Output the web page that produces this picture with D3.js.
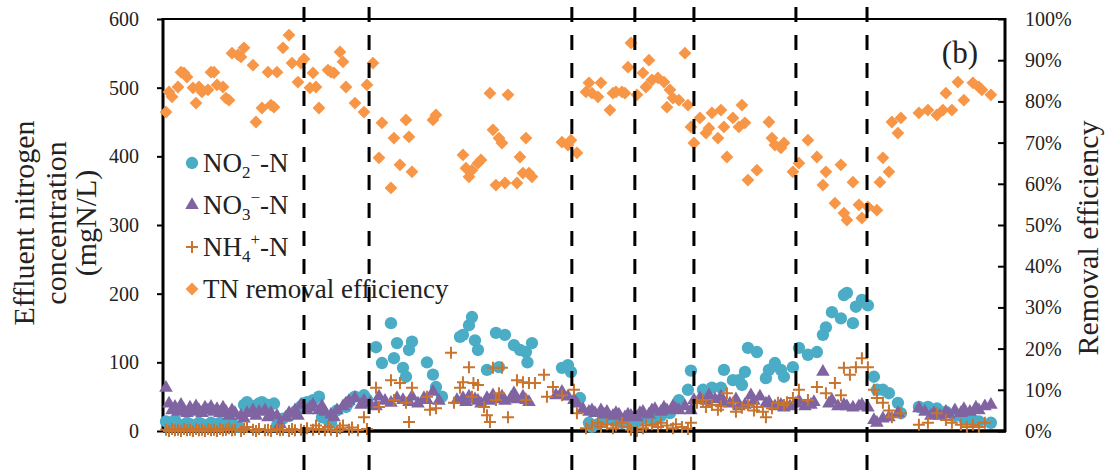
<!DOCTYPE html>
<html>
<head>
<meta charset="utf-8">
<script src="https://cdn.jsdelivr.net/npm/d3@7"></script>
<style>
  body { margin: 0; background: #fff; }
  text { font-family: "Liberation Serif", "Times New Roman", serif; fill: #222; }
</style>
</head>
<body>
<div id="chart"></div>
<script>
// [day, mgN/L]
var no2 = [[1,14],[2,12],[4,16],[5,10],[7,8],[8,12],[9,10],[11,8],[12,12],[13,10],[15,8],[16,12],[18,10],[19,12],[20,8],[22,10],[23,12],[25,6],[27,38],[28,42],[30,36],[32,40],[33,42],[35,38],[37,40],[38,8],[40,18],[42,22],[44,28],[46,36],[47,40],[48,42],[50,45],[52,50],[53,20],[55,16],[56,12],[58,30],[61,35],[62,42],[64,50],[67,52],[68,46],
  [71,122],[73,99],[76,157],[77,106],[78,128],[80,92],[81,79],[82,118],[83,130],[88,100],[90,82],[91,64],[93,50],
  [99,137],[100,140],[102,154],[103,166],[104,132],[105,118],[108,89],[111,143],[112,93],[114,140],[117,125],[119,118],[121,115],[121.5,100],[123,128],[133,92],[135,96],[136,86],[139,48],
  [142,12],[143,6],[145,10],[147,14],[148,20],[150,16],[151,20],[153,12],[155,16],[156,10],[158,14],[160,18],[162,20],[164,16],[166,22],[169,26],[172,45],[175,60],[176,88],
  [180,60],[183,63],[186,63],[187,89],[190,74],[192,74],[193,67],[194,86],[195,121],[198,115],[201,77],[202,89],[204,99],[206,89],[207,79],[210,93],
  [212,121],[215,111],[218,115],[220,140],[221,151],[223,173],[226,164],[227,198],[228,201],[230,157],[231,181],[233,191],[235,183],
  [237,79],[238,60],[240,60],[242,55],[245,41],[246,26],[252,35],[255,35],[258,33],[261,28],[264,22],[267,18],[270,16],[272,14],[276,12]];

var no3 = [[1,63],[2,40],[3,30],[4,35],[5,28],[6,38],[7,30],[8,26],[9,34],[10,28],[11,36],[12,30],[13,26],[14,34],[15,30],[16,35],[17,28],[18,32],[19,26],[20,34],[21,28],[22,22],[23,30],[24,26],[26,22],[27,18],[28,26],[30,30],[31,22],[32,28],[34,30],[35,20],[36,26],[38,22],[39,10],[41,20],[42,26],[44,30],[45,22],
  [46,38],[48,30],[49,34],[50,38],[52,30],[53,36],[54,28],[56,24],[57,20],[58,30],[60,36],[61,40],[62,44],[64,48],[66,38],[67,44],
  [69,40],[71,36],[72,50],[74,44],[76,41],[78,48],[80,45],[82,42],[83,50],[85,40],[87,48],[88,45],[90,57],[92,44],
  [98,45],[100,48],[101,42],[102,50],[104,46],[105,44],[106,40],[108,48],[109,44],[110,52],[112,46],[113,50],[114,44],[116,48],[117,55],[118,46],[120,50],[121,45],[122,42],
  [131,52],[133,57],[135,50],[137,45],[138,40],[140,32],[142,28],[143,30],[144,26],[146,30],[147,24],[148,28],[150,22],[151,26],[152,24],[154,20],[155,24],[156,22],[158,20],[159,26],[160,28],[162,24],[163,30],[164,32],[166,28],[167,34],[168,30],[170,36],[171,32],[172,30],[174,36],[176,30],
  [177,45],[179,48],[181,44],[182,52],[184,46],[186,50],[187,42],[189,40],[191,46],[192,36],[194,38],[196,52],[197,44],[199,50],[201,40],[202,42],[204,36],[206,38],[207,34],[209,36],
  [211,40],[212,44],[214,36],[216,38],[217,42],[220,86],[222,40],[223,45],[225,36],[227,38],[228,36],[230,34],[232,36],[233,38],[235,34],
  [237,16],[238,12],[240,18],[242,20],[245,26],[252,33],[254,28],[256,22],[257,26],[259,22],[261,28],[262,24],[264,30],[266,26],[267,32],[269,28],[271,34],[272,30],[274,36],[276,38]];

var nh4 = [[1,2],[2,0],[3,3],[4,1],[5,2],[6,0],[7,3],[8,1],[9,2],[10,0],[11,3],[12,1],[13,2],[14,0],[15,3],[16,1],[17,2],[18,0],[19,3],[20,1],[21,2],[22,4],[23,1],[24,2],[26,0],[27,3],[28,6],[30,2],[31,0],[32,3],[34,1],[35,2],[36,0],[38,3],[39,1],[40,2],[42,0],[43,3],[44,1],
  [46,2],[47,0],[48,4],[50,2],[51,8],[52,3],[54,1],[55,6],[56,2],[58,0],[59,4],[60,8],[62,2],[63,5],[65,1],[67,20],[68,3],
  [71,63],[72,35],[76,74],[77,45],[79,70],[81,41],[82,13],[83,63],[88,50],[89,31],[91,33],
  [96,114],[97,41],[99,63],[100,71],[102,93],[103,50],[103.5,70],[105,67],[107,35],[108,23],[109,13],[110,92],[111,45],[112,55],[113,92],[115,20],[118,74],[120,71],[121,45],[122,70],[124,70],[127,82],[128,50],[130,64],[133,52],
  [137,60],[138,26],[141,4],[143,8],[145,12],[146,6],[148,10],[150,4],[151,8],[153,12],[155,6],[156,2],[158,0],[160,4],[161,8],[163,10],[165,6],[166,12],[168,8],[170,4],[171,10],[173,6],[175,3],[176,12],
  [178,41],[180,45],[181,35],[183,38],[185,31],[186,36],[188,55],[190,41],[191,28],[193,34],[195,38],[197,30],[198,35],[200,28],[201,20],[203,33],[205,41],[207,38],[208,42],[210,48],
  [212,60],[215,45],[218,64],[221,55],[224,70],[226,52],[227,92],[229,82],[231,93],[233,106],[235,93],
  [237,60],[238,48],[240,41],[242,30],[243,20],[246,26],[252,9],[255,12],[258,26],[261,16],[263,12],[266,9],[268,6],[270,9],[272,6],[274,12]];

// [day, %]
var tnRemoval = [[1,77.4],[2,82.3],[3,81.1],[5,83.5],[6,87.1],[7,86.9],[8,85.9],[10,83.3],[11,79.6],[12,83.5],[13,82.3],[15,82.8],[16,87.1],[17,87.1],[18,84.0],[20,83.5],[21,80.8],[22,80.3],[23,91.7],[25,91.3],[26,90.8],[27,93.0],[30,88.8],[31,75.0],[33,78.4],[35,87.1],[36,79.1],[37,78.6],[38,87.1],[40,93.0],[42,96.1],[43,89.3],[45,84.7],[46,89.3],
  [47,90.3],[49,83.3],[50,86.9],[51,83.5],[52,78.4],[55,87.6],[56,87.1],[57,86.9],[59,92.0],[60,89.6],[61,83.5],[64,79.6],[67,77.4],[68,84.0],
  [70,89.3],[72,66.3],[73,74.8],[76,59.0],[77,71.1],[79,64.6],[81,75.5],[82,71.4],[83,62.9],[90,75.5],[91,76.7],
  [100,67.0],[101,63.8],[102,61.7],[103,63.3],[105,65.0],[106,65.8],[109,82.0],[110,73.1],[111,59.7],[112,71.1],[113,69.9],[114,60.2],[115,81.6],[118,60.2],[119,66.5],[120,62.6],[121,71.1],[122,62.6],[123,61.7],[133,70.1],[135,69.4],
  [136,70.6],[138,67.5],[141,82.3],[142,84.5],[143,82.0],[145,81.1],[146,84.5],[149,77.9],[150,82.0],[151,82.3],[153,82.3],[154,82.0],[155,88.3],
  [156,94.2],[158,81.6],[160,86.9],[161,83.5],[162,90.0],[163,85.2],[165,85.7],[167,84.7],[168,78.6],[169,82.8],[170,80.8],[172,80.3],[174,91.7],[175,79.1],[176,73.8],
  [177,69.9],[179,76.0],[181,72.3],[182,73.5],[183,77.2],[185,71.1],[186,77.9],[187,73.8],[188,66.5],[190,76.0],[192,73.8],[193,79.1],[194,74.8],[195,60.9],[198,63.3],[202,75.0],[203,71.1],[204,69.4],[206,68.7],[207,69.9],[210,62.9],
  [212,65.0],[215,70.6],[218,66.5],[220,59.7],[221,62.9],[224,55.3],[226,64.6],[227,52.9],[228,51.2],[230,60.4],[232,54.9],[233,51.7],
  [235,54.4],[238,53.6],[239,60.4],[240,66.3],[242,62.9],[243,75.0],[245,72.3],[246,76.0],[252,77.2],[255,77.9],[258,76.7],[260,77.9],[261,82.0],[263,77.9],[265,84.7],[267,80.3],[270,84.5],[272,83.5],[273,82.8],[276,81.6]];

// stage boundaries (day)
var stageBreaks = [47, 68.7, 136.3, 157.3, 177, 211, 234.7];

var leftTicks = [0, 100, 200, 300, 400, 500, 600];
var rightTicks = [0, 10, 20, 30, 40, 50, 60, 70, 80, 90, 100];

var colors = { no2: "#4bacc6", no3: "#8064a2", nh4: "#c8742f", tn: "#f79646" };

var width = 1110, height = 470;
var plot = { left: 163, right: 1005, top: 19, bottom: 431 };

var svg = d3.select("#chart").append("svg")
  .attr("width", width).attr("height", height)
  .style("background", "#fff");

var x = d3.scaleLinear().domain([0, 280.7]).range([plot.left, plot.right]);
var yL = d3.scaleLinear().domain([0, 600]).range([plot.bottom, plot.top]);
var yR = d3.scaleLinear().domain([0, 100]).range([plot.bottom, plot.top]);

// axes
var leftAxis = svg.append("g")
  .attr("transform", "translate(" + plot.left + ",0)")
  .call(d3.axisLeft(yL).tickValues(leftTicks).tickSize(6).tickPadding(18));
var rightAxis = svg.append("g")
  .attr("transform", "translate(" + plot.right + ",0)")
  .call(d3.axisRight(yR).tickValues(rightTicks).tickSize(-7).tickPadding(20)
    .tickFormat(function(d){ return d + "%"; }));

[leftAxis, rightAxis].forEach(function(g){
  g.select(".domain").remove();
  g.selectAll(".tick line").attr("stroke", "#000").attr("stroke-width", 2);
  g.selectAll(".tick text").attr("font-size", 20)
    .style("font-family", "'Liberation Serif', serif").attr("fill", "#222");
});

// frame
svg.append("line").attr("x1", plot.left).attr("x2", plot.right).attr("y1", plot.top).attr("y2", plot.top)
  .attr("stroke", "#000").attr("stroke-width", 2);
svg.append("line").attr("x1", plot.right).attr("x2", plot.right).attr("y1", plot.top - 1).attr("y2", plot.bottom + 1)
  .attr("stroke", "#000").attr("stroke-width", 3);
svg.append("line").attr("x1", plot.left).attr("x2", plot.left).attr("y1", plot.top - 1).attr("y2", plot.bottom + 1)
  .attr("stroke", "#000").attr("stroke-width", 3);
svg.append("line").attr("x1", plot.left).attr("x2", plot.right + 1).attr("y1", plot.bottom).attr("y2", plot.bottom)
  .attr("stroke", "#000").attr("stroke-width", 3.5);

// points
var circle = d3.symbol().type(d3.symbolCircle).size(120);
var tri = d3.symbol().type(d3.symbolTriangle).size(80);
var square = d3.symbol().type(d3.symbolSquare).size(82);

svg.append("g").selectAll("path").data(no2).enter().append("path")
  .attr("d", circle)
  .attr("transform", function(d){ return "translate(" + x(d[0]) + "," + yL(d[1]) + ")"; })
  .attr("fill", colors.no2);

svg.append("g").selectAll("path").data(no3).enter().append("path")
  .attr("d", tri)
  .attr("transform", function(d){ return "translate(" + x(d[0]) + "," + yL(d[1]) + ")"; })
  .attr("fill", colors.no3);

var plus = "M-6,0H6M0,-6V6";
svg.append("g").selectAll("path").data(nh4).enter().append("path")
  .attr("d", plus)
  .attr("transform", function(d){ return "translate(" + x(d[0]) + "," + yL(d[1]) + ")"; })
  .attr("stroke", colors.nh4).attr("stroke-width", 2).attr("fill", "none");

svg.append("g").selectAll("path").data(tnRemoval).enter().append("path")
  .attr("d", square)
  .attr("transform", function(d){ return "translate(" + x(d[0]) + "," + yR(d[1]) + ") rotate(45)"; })
  .attr("fill", colors.tn);

// legend
var legend = svg.append("g").attr("font-size", 27);
var rows = [
  { key: "no2", y: 172, base: "NO", sub: "2", sup: "\u2212" },
  { key: "no3", y: 214, base: "NO", sub: "3", sup: "\u2212" },
  { key: "nh4", y: 256, base: "NH", sub: "4", sup: "+" },
  { key: "tn",  y: 298, label: "TN removal efficiency" }
];
rows.forEach(function(r){
  var mx = 192, my = r.y - 9;
  if (r.key == "no2") legend.append("path").attr("d", circle).attr("transform", "translate(" + mx + "," + my + ")").attr("fill", colors.no2);
  else if (r.key == "no3") legend.append("path").attr("d", tri).attr("transform", "translate(" + mx + "," + my + ")").attr("fill", colors.no3);
  else if (r.key == "nh4") legend.append("path").attr("d", plus).attr("transform", "translate(" + mx + "," + my + ")").attr("stroke", colors.nh4).attr("stroke-width", 2);
  else legend.append("path").attr("d", square).attr("transform", "translate(" + mx + "," + my + ") rotate(45)").attr("fill", colors.tn);

  var t = legend.append("text").attr("x", 203).attr("y", r.y);
  if (r.label) { t.text(r.label); return; }
  t.append("tspan").text(r.base);
  t.append("tspan").attr("font-size", 17).attr("dy", 6).text(r.sub);
  t.append("tspan").attr("font-size", 17).attr("dy", -17).text(r.sup);
  t.append("tspan").attr("dy", 11).text("-N");
});

// panel label
svg.append("text").attr("x", 978).attr("y", 63).attr("text-anchor", "end")
  .attr("font-size", 31).text("(b)");

// axis titles
var lt = svg.append("text").attr("transform", "translate(0,223) rotate(-90)")
  .attr("text-anchor", "middle").attr("font-size", 30);
lt.append("tspan").attr("x", 0).attr("y", 34).text("Effluent nitrogen");
lt.append("tspan").attr("x", 0).attr("y", 66).text("concentration");
lt.append("tspan").attr("x", 0).attr("y", 96).text("(mgN/L)");

svg.append("text").attr("transform", "translate(1098,238) rotate(-90)")
  .attr("text-anchor", "middle").attr("font-size", 30).text("Removal efficiency");

// stage dividers on top
svg.append("g").selectAll("line").data(stageBreaks).enter().append("line")
  .attr("x1", function(d){ return x(d); }).attr("x2", function(d){ return x(d); })
  .attr("y1", 7).attr("y2", height)
  .attr("stroke", "#000").attr("stroke-width", 3)
  .attr("stroke-dasharray", "15,13");
</script>
</body>
</html>
